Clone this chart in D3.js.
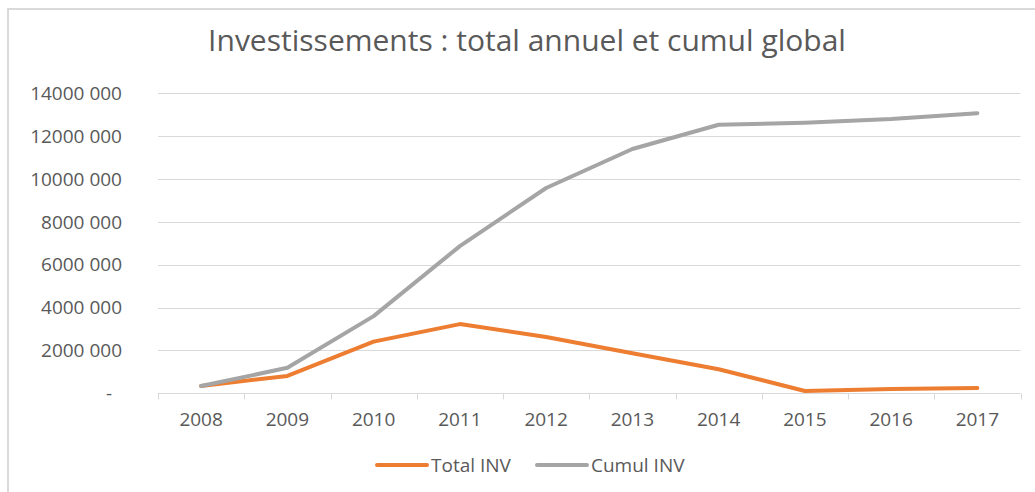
<!DOCTYPE html>
<html>
<head>
<meta charset="utf-8">
<script src="https://cdn.jsdelivr.net/npm/d3@7"></script>
<style>
  body { margin: 0; background: #fff; }
  text { font-family: "Open Sans", sans-serif; fill: #595959; }
</style>
</head>
<body>
<div id="chart"></div>
<script>
const years = ["2008","2009","2010","2011","2012","2013","2014","2015","2016","2017"];
const totalInv = [340000, 810000, 2410000, 3230000, 2630000, 1870000, 1120000, 110000, 200000, 250000];
const cumulInv = [340000, 1190000, 3600000, 6870000, 9580000, 11400000, 12530000, 12630000, 12800000, 13070000];
const yTicks = [0, 2000000, 4000000, 6000000, 8000000, 10000000, 12000000, 14000000];

const series = [
  {name: "Total INV", values: totalInv, color: "#ED7D31"},
  {name: "Cumul INV", values: cumulInv, color: "#A5A5A5"}
];

const W = 1035, H = 492;
const svg = d3.select("#chart").append("svg").attr("width", W).attr("height", H);

// chart frame (left + top only visible)
svg.append("path")
  .attr("d", `M8,${H} L8,9 L${W},9`)
  .attr("fill", "none").attr("stroke", "#d9d9d9").attr("stroke-width", 2);

svg.append("text")
  .attr("x", 527).attr("y", 51)
  .attr("text-anchor", "middle")
  .style("font-size", "30px")
  .text("Investissements : total annuel et cumul global");

const x = d3.scaleBand().domain(years).range([158, 1020.5]);
const y = d3.scaleLinear().domain([0, 14000000]).range([393.3, 93.3]);

// gridlines
svg.append("g").selectAll("line")
  .data(yTicks.filter(d => d > 0))
  .join("line")
  .attr("x1", 158).attr("x2", 1020.5)
  .attr("y1", d => Math.round(y(d)) + 0.5).attr("y2", d => Math.round(y(d)) + 0.5)
  .attr("stroke", "#d9d9d9").attr("stroke-width", 1);

// y labels
const fmt = d => d === 0 ? "-" : `${Math.floor(d / 1000000)}000 000`;
svg.append("g").selectAll("text")
  .data(yTicks)
  .join("text")
  .attr("x", d => d === 0 ? 112 : 122)
  .attr("y", d => y(d))
  .attr("dy", "0.35em")
  .attr("text-anchor", "end")
  .style("font-size", "19px")
  .text(fmt);

// x axis
const xAxis = svg.append("g").attr("transform", `translate(0,${Math.round(y(0)) + 0.5})`);
xAxis.append("line").attr("x1", 158).attr("x2", 1020.5).attr("stroke", "#d9d9d9");
const bounds = years.map(d => x(d)).concat([x.range()[1]]);
xAxis.selectAll(".tick")
  .data(bounds)
  .join("line")
  .attr("class", "tick")
  .attr("x1", d => Math.round(d) + 0.5).attr("x2", d => Math.round(d) + 0.5)
  .attr("y1", 0).attr("y2", 6)
  .attr("stroke", "#d9d9d9");
svg.append("g").selectAll("text")
  .data(years)
  .join("text")
  .attr("x", d => x(d) + x.bandwidth() / 2)
  .attr("y", 426)
  .attr("text-anchor", "middle")
  .style("font-size", "19px")
  .text(d => d);

// lines
const line = d3.line()
  .x((d, i) => x(years[i]) + x.bandwidth() / 2)
  .y(d => y(d));
svg.append("g").selectAll("path")
  .data(series)
  .join("path")
  .attr("d", d => line(d.values))
  .attr("fill", "none")
  .attr("stroke", d => d.color)
  .attr("stroke-width", 4)
  .attr("stroke-linejoin", "round")
  .attr("stroke-linecap", "round");

// legend
const legendX = [377, 537];
const lg = svg.append("g").selectAll("g")
  .data(series)
  .join("g")
  .attr("transform", (d, i) => `translate(${legendX[i]},465)`);
lg.append("line")
  .attr("x1", 0).attr("x2", 50)
  .attr("stroke", d => d.color).attr("stroke-width", 4).attr("stroke-linecap", "round");
lg.append("text")
  .attr("x", 54).attr("dy", "0.35em")
  .style("font-size", "19px")
  .text(d => d.name);
</script>
</body>
</html>
